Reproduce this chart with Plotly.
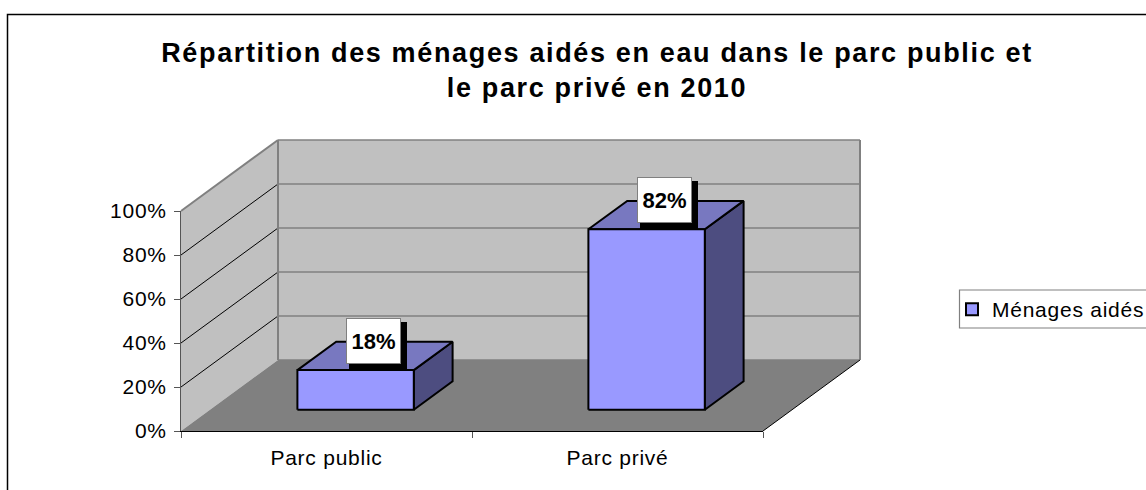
import plotly.graph_objects as go

# Data
categories = ["Parc public", "Parc privé"]
values = [18, 82]
labels = ["18%", "82%"]
series_name = "Ménages aidés"
y_ticks = [0, 20, 40, 60, 80, 100]
y_tick_labels = ["0%", "20%", "40%", "60%", "80%", "100%"]
title_text = "Répartition des ménages aidés en eau dans le parc public et<br>le parc privé en 2010"

# Page and projection geometry (pixels)
W, H = 1146, 490
X0, X1 = 181, 763      # front axis ends
Y0, Y100 = 431, 211    # 0% and 100% on front axis
DEPTH_PX = (97, 71)    # oblique depth offset
UX = (X1 - X0) / len(categories)
UV = (Y0 - Y100) / 100.0
DX = DEPTH_PX[0] / UX
DV = DEPTH_PX[1] / UV
N = len(categories)
VMAX = y_ticks[-1]

BAR_HALF = 0.2
D_FRONT, D_BACK = 0.30, 0.70

WALL = "#C0C0C0"
FLOOR = "#808080"
EDGE = "#808080"
FRONT = "#9999FF"
TOP = "#7878C0"
SIDE = "#4D4D80"
FONT = "Liberation Sans"


def P(x, v, d=0.0):
    return x + d * DX, v + d * DV


def poly(points, fill, line=None, width=1):
    xs = [p[0] for p in points] + [points[0][0]]
    ys = [p[1] for p in points] + [points[0][1]]
    return go.Scatter(x=xs, y=ys, mode="lines", fill="toself", fillcolor=fill,
                      line=dict(color=line or fill, width=width if line else 0),
                      hoverinfo="skip", showlegend=False, xaxis="x", yaxis="y")


def seg(a, b, color, width=1):
    return go.Scatter(x=[a[0], b[0]], y=[a[1], b[1]], mode="lines",
                      line=dict(color=color, width=width),
                      hoverinfo="skip", showlegend=False, xaxis="x", yaxis="y")


fig = go.Figure()

# Walls and floor
fig.add_trace(poly([P(0, 0), P(0, VMAX), P(0, VMAX, 1), P(0, 0, 1)], WALL))
fig.add_trace(poly([P(0, 0, 1), P(0, VMAX, 1), P(N, VMAX, 1), P(N, 0, 1)], WALL))
fig.add_trace(poly([P(0, 0), P(N, 0), P(N, 0, 1), P(0, 0, 1)], FLOOR))

# Grid lines
for v in y_ticks[1:]:
    fig.add_trace(seg(P(0, v), P(0, v, 1), EDGE if v == VMAX else "#000000", 2 if v == VMAX else 1))
    fig.add_trace(seg(P(0, v, 1), P(N, v, 1), EDGE, 1.6))
fig.add_trace(seg(P(0, 0, 1), P(0, VMAX, 1), EDGE, 2))
fig.add_trace(seg(P(N, 0, 1), P(N, VMAX, 1), EDGE, 2))
fig.add_trace(seg(P(0, 0, 1), P(N, 0, 1), EDGE, 1.5))
fig.add_trace(seg(P(N, 0), P(N, 0, 1), "#000000", 1))

# Bars
annotations = []
for i, (val, lab) in enumerate(zip(values, labels)):
    c = i + 0.5
    l, r = c - BAR_HALF, c + BAR_HALF
    fig.add_trace(poly([P(r, 0, D_FRONT), P(r, val, D_FRONT), P(r, val, D_BACK), P(r, 0, D_BACK)],
                       SIDE, "#000000", 2))
    fig.add_trace(poly([P(l, val, D_FRONT), P(r, val, D_FRONT), P(r, val, D_BACK), P(l, val, D_BACK)],
                       TOP, "#000000", 2))
    fig.add_trace(poly([P(l, 0, D_FRONT), P(r, 0, D_FRONT), P(r, val, D_FRONT), P(l, val, D_FRONT)],
                       FRONT, "#000000", 2))
    ax, ay = P(c, val, (D_FRONT + D_BACK) / 2)
    common = dict(x=ax, y=ay, xref="x", yref="y", showarrow=False,
                  font=dict(family=FONT, size=22, color="#000000"), borderpad=0, borderwidth=1)
    annotations.append(dict(text="<b> </b>", bgcolor="#000000", bordercolor="#000000",
                            width=56, height=47, xshift=3, yshift=9.5, **common))
    annotations.append(dict(text=f"<b>{lab}</b>", bgcolor="#FFFFFF", bordercolor="#808080",
                            width=53, height=44, xshift=-2, yshift=15, **common))

# Legend carrier
fig.add_trace(go.Scatter(x=[None], y=[None], mode="markers", name=series_name, showlegend=True,
                         marker=dict(symbol="square", size=12, color=FRONT,
                                     line=dict(color="#000000", width=2)),
                         xaxis="x2", yaxis="y2"))

fig.update_layout(
    width=W, height=H, autosize=False,
    margin=dict(l=0, r=0, t=0, b=0, pad=0),
    paper_bgcolor="#FFFFFF", plot_bgcolor="rgba(0,0,0,0)",
    font=dict(family=FONT, size=21, color="#000000"),
    title=dict(text=f"<b>{title_text}</b>", x=597 / W, xanchor="center", yref="container",
               y=1 - 62 / H, yanchor="middle", automargin=False,
               font=dict(family=FONT, size=27, color="#000000")),
    xaxis=dict(domain=[0, 1], range=[-X0 / UX, (W - X0) / UX], visible=False, fixedrange=True, automargin=False),
    yaxis=dict(domain=[0, 1], range=[(Y0 - H) / UV, Y0 / UV], visible=False, fixedrange=True, automargin=False),
    xaxis2=dict(domain=[X0 / W, X1 / W], range=[0, N], anchor="y2", automargin=False,
                tickmode="array", tickvals=[i + 0.5 for i in range(N)], ticktext=categories,
                ticks="", ticklabelstandoff=8, showgrid=False, zeroline=False,
                showline=True, linecolor="#000000", linewidth=1,
                tickfont=dict(family=FONT, size=21),
                minor=dict(tickmode="array", tickvals=list(range(N + 1)), ticks="outside",
                           ticklen=6, tickcolor="#555555", tickwidth=1, showgrid=False),
                fixedrange=True),
    yaxis2=dict(domain=[(H - Y0) / H, (H - Y100) / H], range=[0, VMAX], anchor="x2", automargin=False,
                tickmode="array", tickvals=y_ticks, ticktext=y_tick_labels,
                ticks="outside", ticklen=6, tickcolor="#555555", tickwidth=1, ticklabelstandoff=3,
                showgrid=False, zeroline=False, showline=True, linecolor="#555555", linewidth=1,
                tickfont=dict(family=FONT, size=21), fixedrange=True),
    legend=dict(x=952 / W, xanchor="left", y=1 - 289 / H, yanchor="top",
                bgcolor="rgba(0,0,0,0)", borderwidth=0,
                font=dict(family=FONT, size=21), itemwidth=30),
    annotations=annotations,
    shapes=[dict(type="rect", xref="paper", yref="paper", x0=7.5 / W, x1=1.02, y0=-0.02, y1=1 - 14.5 / H,
                 line=dict(color="#000000", width=1.5), fillcolor="rgba(0,0,0,0)", layer="below"),
            dict(type="rect", xref="paper", yref="paper", x0=959.5 / W, x1=1.02, y0=1 - 328 / H, y1=1 - 290 / H,
                 line=dict(color="#808080", width=1.2), fillcolor="rgba(0,0,0,0)", layer="below")],
)

post = """
document.body.style.margin='0';
var g=document.querySelector('.plotly-graph-div');
g.querySelectorAll('.gtitle').forEach(function(t){t.style.letterSpacing='1.65px';});
g.querySelectorAll('.xtick text,.x2tick text,.ytick text,.y2tick text,.legendtext').forEach(function(t){t.style.letterSpacing='0.75px';});
g.querySelectorAll('.legend, .legend .scrollbox').forEach(function(s){s.removeAttribute('clip-path');s.style.clipPath='none';});
"""
fig.write_html("out.html", post_script=post, config={"displayModeBar": False})
